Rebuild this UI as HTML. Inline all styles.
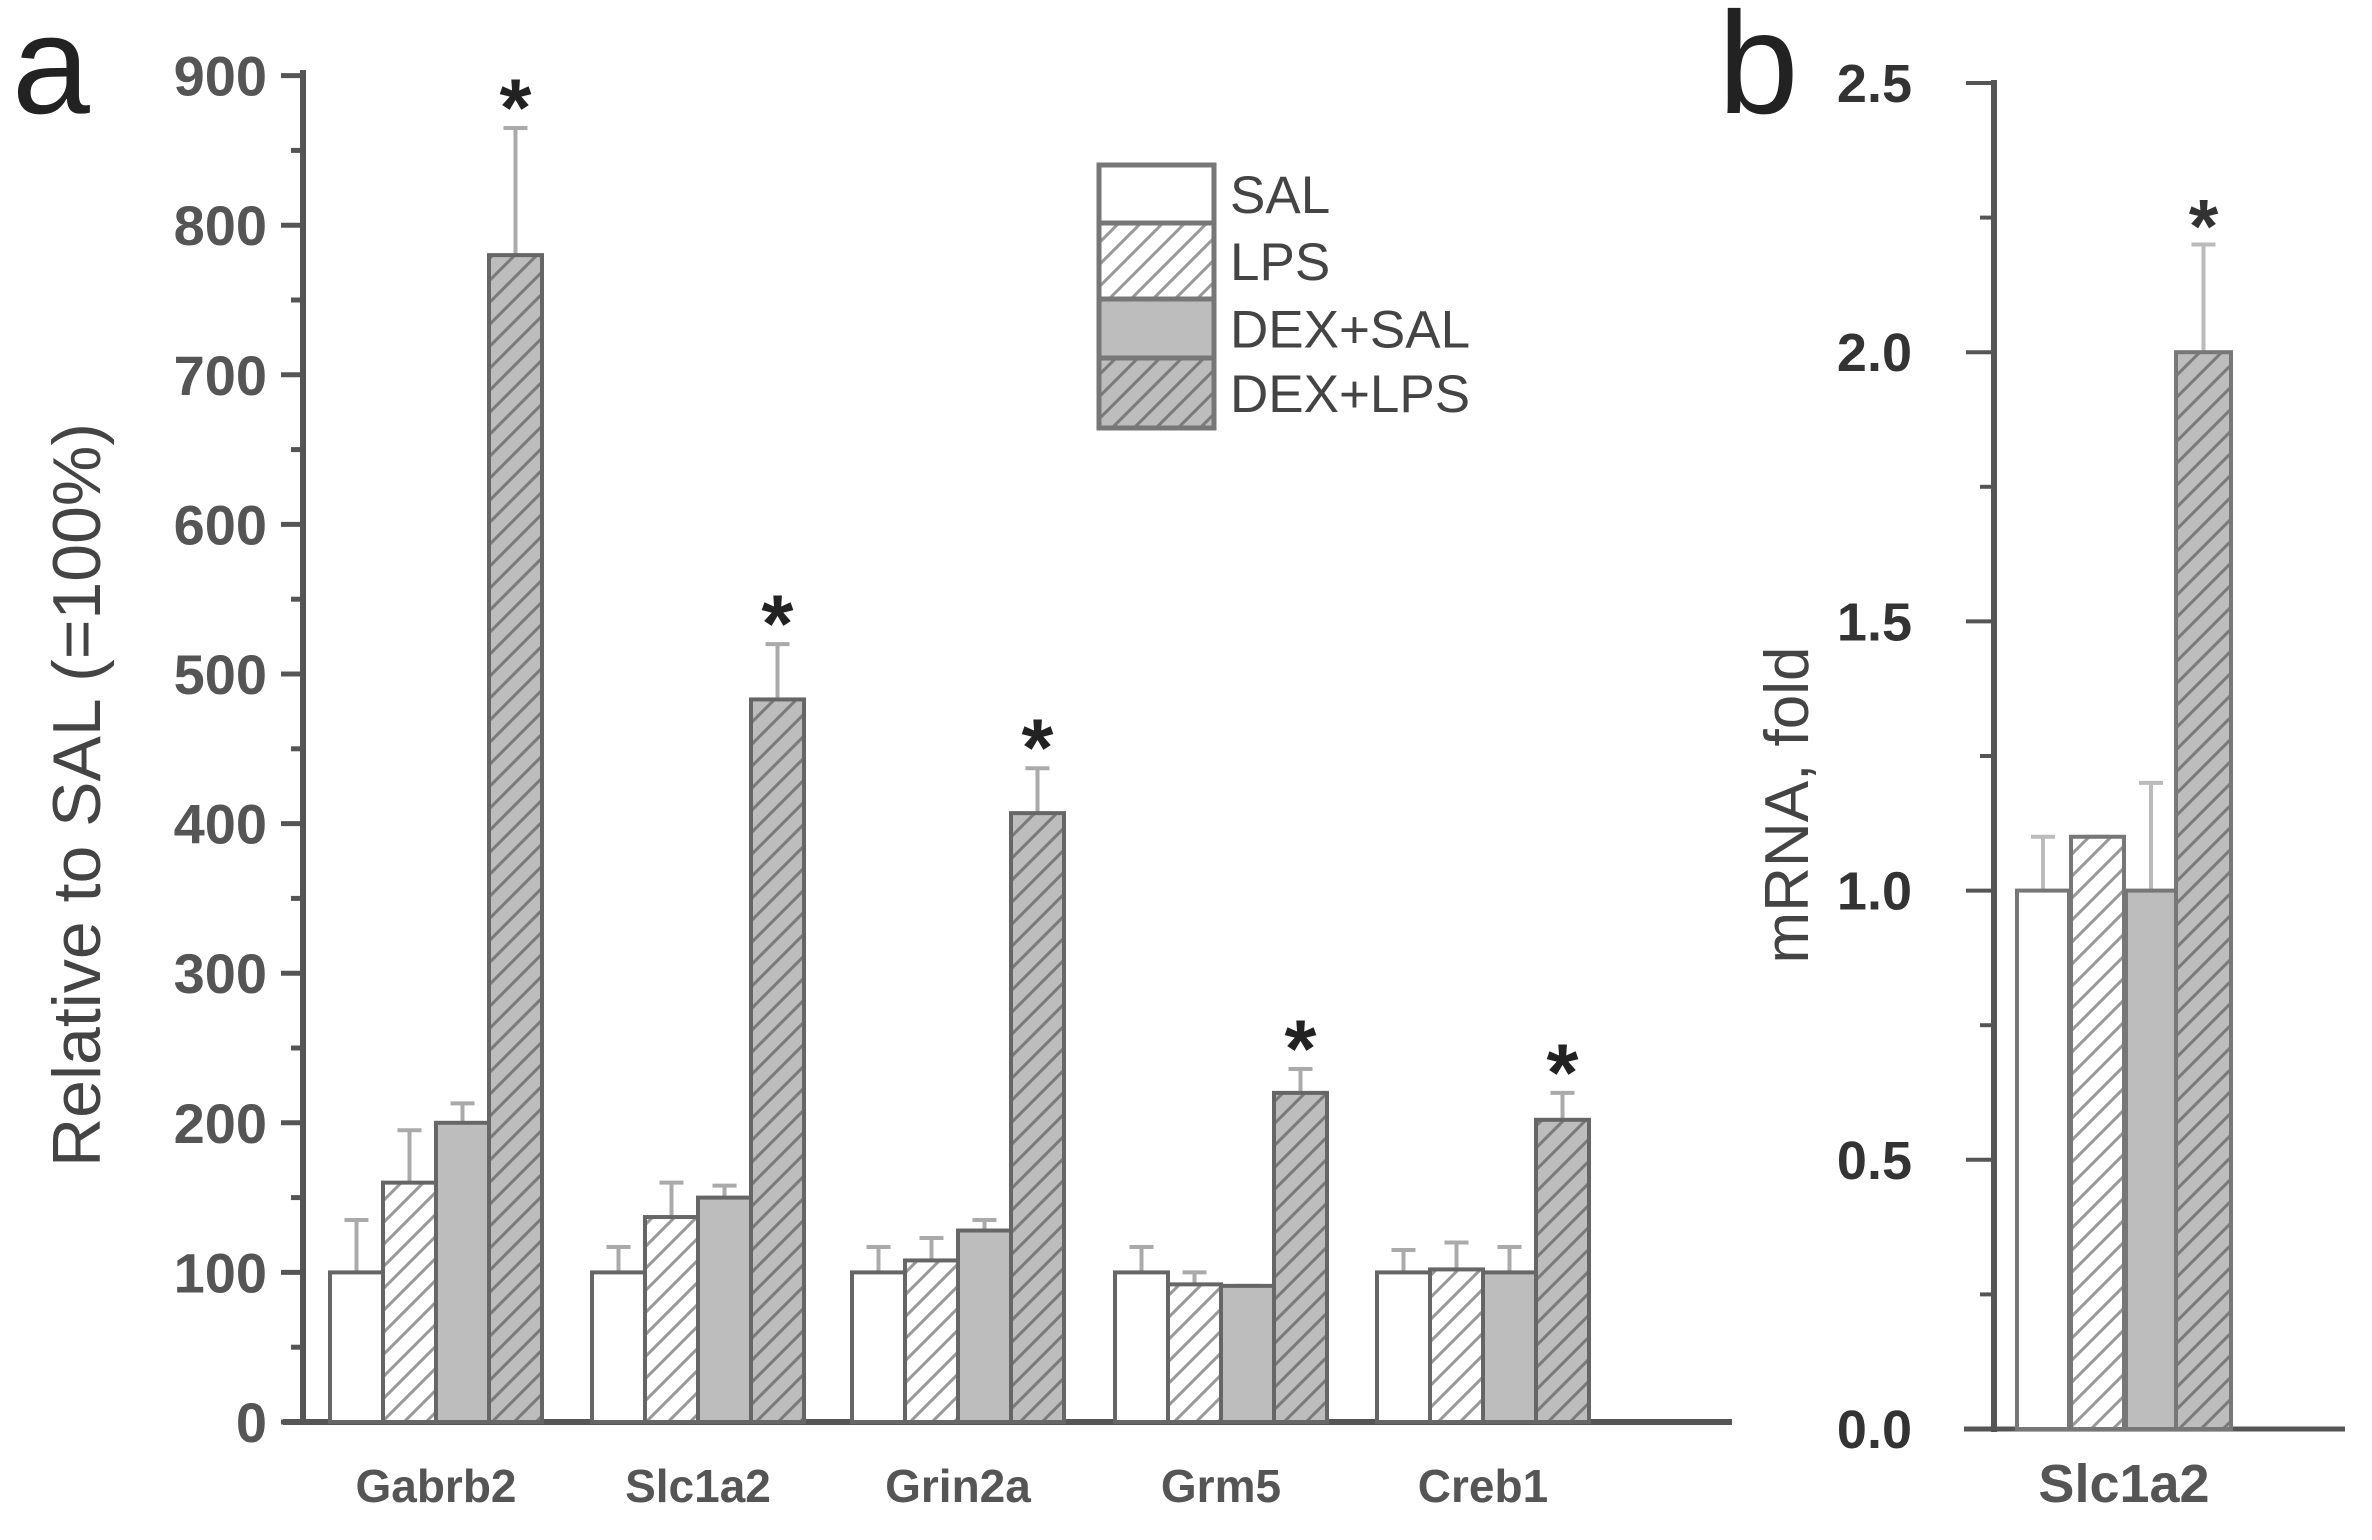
<!DOCTYPE html>
<html><head><meta charset="utf-8"><style>
html,body{margin:0;padding:0;background:#fff}
svg{display:block}
text{font-family:"Liberation Sans",sans-serif;fill:#444}
</style></head><body>
<svg id="s" width="2372" height="1540" viewBox="0 0 2372 1540" xmlns="http://www.w3.org/2000/svg">
<defs>
<pattern id="h1" patternUnits="userSpaceOnUse" width="22" height="22">
<rect width="22" height="22" fill="#fff"/><path d="M-5,27 L27,-5 M-16,16 L16,-16 M6,38 L38,6" stroke="#999" stroke-width="3"/></pattern>
<pattern id="h2" patternUnits="userSpaceOnUse" width="22" height="22">
<rect width="22" height="22" fill="#bdbdbd"/><path d="M-5,27 L27,-5 M-16,16 L16,-16 M6,38 L38,6" stroke="#7a7a7a" stroke-width="3"/></pattern>
</defs>
<text x="12" y="113" font-size="140" style="fill:#222">a</text>
<text x="1718" y="113" font-size="145" style="fill:#222">b</text>
<text transform="translate(100,795) rotate(-90)" font-size="68" text-anchor="middle">Relative to SAL (=100%)</text>
<text transform="translate(1808,805) rotate(-90)" font-size="62" text-anchor="middle">mRNA, fold</text>
<g id="g"></g>
</svg>
<script>
const g=document.getElementById('g');let h='';
const fills=['#fff','url(#h1)','#bdbdbd','url(#h2)'];
const X0=303,Y0=1422,S=1.496;
h+=`<line x1="${X0}" y1="70" x2="${X0}" y2="${Y0+3}" stroke="#555" stroke-width="6"/>`;
h+=`<line x1="${X0-20}" y1="${Y0}" x2="1732" y2="${Y0}" stroke="#555" stroke-width="6"/>`;
for(let v=0;v<=900;v+=50){const y=Y0-v*S;const maj=v%100==0;
h+=`<line x1="${X0-(maj?22:12)}" y1="${y}" x2="${X0}" y2="${y}" stroke="#555" stroke-width="5"/>`;
if(maj)h+=`<text x="${X0-36}" y="${y+20}" font-size="56" font-weight="bold" text-anchor="end" style="fill:#555">${v}</text>`;}
const data=[['Gabrb2',[100,160,200,780],[135,195,213,865]],['Slc1a2',[100,137,150,483],[117,160,158,520]],['Grin2a',[100,108,128,407],[117,123,135,437]],['Grm5',[100,92,91,220],[117,100,91,236]],['Creb1',[100,102,100,202],[115,120,117,220]]];
const gx=[330,592,852,1115,1377],bw=53;
data.forEach((d,i)=>{d[1].forEach((v,j)=>{const x=gx[i]+j*bw,y=Y0-v*S,e=Y0-d[2][j]*S,cx=x+bw/2;
h+=`<line x1="${cx}" y1="${y}" x2="${cx}" y2="${e}" stroke="#aaa" stroke-width="4"/><line x1="${cx-12}" y1="${e}" x2="${cx+12}" y2="${e}" stroke="#aaa" stroke-width="4"/>`;
h+=`<rect x="${x}" y="${y}" width="${bw}" height="${Y0-y}" fill="${fills[j]}" stroke="#666" stroke-width="4"/>`;
if(j==3)h+=`<text x="${cx}" y="${e+8}" font-size="82" font-weight="bold" text-anchor="middle" style="fill:#222">*</text>`;});
h+=`<text x="${gx[i]+2*bw}" y="1502" font-size="46" font-weight="bold" text-anchor="middle" style="fill:#555">${d[0]}</text>`;});
const L=[['SAL',165,223],['LPS',223,299],['DEX+SAL',299,358],['DEX+LPS',358,428]];
L.forEach((l,j)=>{h+=`<rect x="1099" y="${l[1]}" width="115" height="${l[2]-l[1]}" fill="${fills[j]}" stroke="#777" stroke-width="5"/>`;
h+=`<text x="1230" y="${(l[1]+l[2])/2+19}" font-size="53">${l[0]}</text>`;});
const BX=1994,BY=1429,BS=538.4;
h+=`<line x1="${BX}" y1="80" x2="${BX}" y2="${BY+3}" stroke="#555" stroke-width="6"/>`;
h+=`<line x1="${BX-30}" y1="${BY}" x2="2345" y2="${BY}" stroke="#555" stroke-width="5"/>`;
for(let k=0;k<=10;k++){const v=k*0.25,y=BY-v*BS,maj=k%2==0;
h+=`<line x1="${BX-(maj?28:14)}" y1="${y}" x2="${BX}" y2="${y}" stroke="#555" stroke-width="4"/>`;
if(maj)h+=`<text x="1912" y="${y+19}" font-size="54" font-weight="bold" text-anchor="end" style="fill:#333">${v.toFixed(1)}</text>`;}
const bx=[2017,2071,2126,2176],bws=[52,53,50,55],bv=[1,1.1,1,2],be=[1.1,1.1,1.2,2.2];
bx.forEach((x,j)=>{const w=bws[j],y=BY-bv[j]*BS,e=BY-be[j]*BS,cx=x+w/2;
h+=`<line x1="${cx}" y1="${y}" x2="${cx}" y2="${e}" stroke="#bbb" stroke-width="4"/><line x1="${cx-12}" y1="${e}" x2="${cx+12}" y2="${e}" stroke="#bbb" stroke-width="4"/>`;
h+=`<rect x="${x}" y="${y}" width="${w}" height="${BY-y}" fill="${fills[j]}" stroke="#777" stroke-width="4"/>`;
if(j==3)h+=`<text x="${cx}" y="${e+8}" font-size="76" font-weight="bold" text-anchor="middle" style="fill:#333">*</text>`;});
h+=`<text x="2124" y="1502" font-size="54" font-weight="bold" text-anchor="middle" style="fill:#555">Slc1a2</text>`;
g.innerHTML=h;
</script>
</body></html>
